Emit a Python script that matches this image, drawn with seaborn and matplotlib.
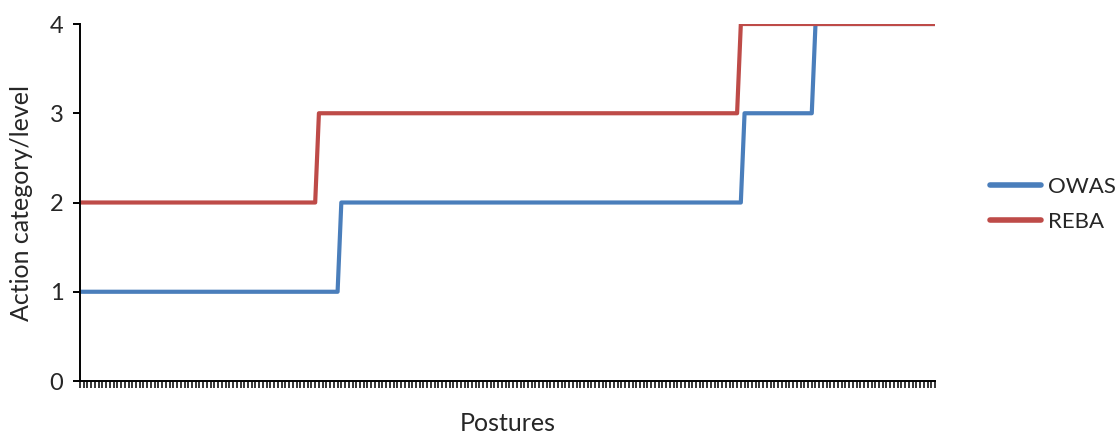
import numpy as np
import pandas as pd
import matplotlib
matplotlib.use("Agg")
import matplotlib.pyplot as plt
import seaborn as sns

# Action levels per posture, stored as runs: (level, number of consecutive postures)
owas_levels = [1, 2, 3, 4]
owas_runs = [70, 108, 19, 33]
reba_levels = [2, 3, 4]
reba_runs = [64, 113, 53]

series_names = ["OWAS", "REBA"]
series_colors = ["#4A7EBB", "#BE4B48"]
y_ticks = [0, 1, 2, 3, 4]

owas = np.repeat(owas_levels, owas_runs)
reba = np.repeat(reba_levels, reba_runs)
n_postures = len(owas)
postures = np.arange(1, n_postures + 1)

df = pd.concat([
    pd.DataFrame({"Posture": postures, "Level": owas, "Method": "OWAS"}),
    pd.DataFrame({"Posture": postures, "Level": reba, "Method": "REBA"}),
])

sns.set_style("ticks")
plt.rcParams["font.family"] = ["Lato", "DejaVu Sans"]

fig = plt.figure(figsize=(11.2, 4.34), dpi=100)
ax = fig.add_axes([0.0714, 0.1221, 0.7634, 0.8226])

sns.lineplot(data=df, x="Posture", y="Level", hue="Method",
             hue_order=series_names, palette=series_colors,
             linewidth=3.0, ax=ax, legend=True)

ax.set_xlim(1, n_postures)
ax.set_ylim(0, 4)
ax.set_yticks(y_ticks)
ax.set_xticks(postures)
ax.set_xticklabels([])
ax.tick_params(axis="x", length=5, width=1.1, color="black", direction="out")
ax.tick_params(axis="y", length=5, width=1.4, color="black", labelsize=17, pad=7)

for side in ["top", "right"]:
    ax.spines[side].set_visible(False)
for side in ["left", "bottom"]:
    ax.spines[side].set_color("black")
    ax.spines[side].set_linewidth(1.4)

ax.set_xlabel("Postures", fontsize=18, labelpad=14)
ax.set_ylabel("Action category/level", fontsize=18, labelpad=12)

handles, labels = ax.get_legend_handles_labels()
leg = ax.legend(handles, labels, loc="center left",
                bbox_to_anchor=(990 / 1120, 1 - 204.5 / 434),
                bbox_transform=fig.transFigure, borderaxespad=0, borderpad=0,
                frameon=False, fontsize=16, handlelength=2.3, handletextpad=0.3,
                labelspacing=0.7)
for line in leg.get_lines():
    line.set_linewidth(4)

fig.savefig("out.png", dpi=100)
